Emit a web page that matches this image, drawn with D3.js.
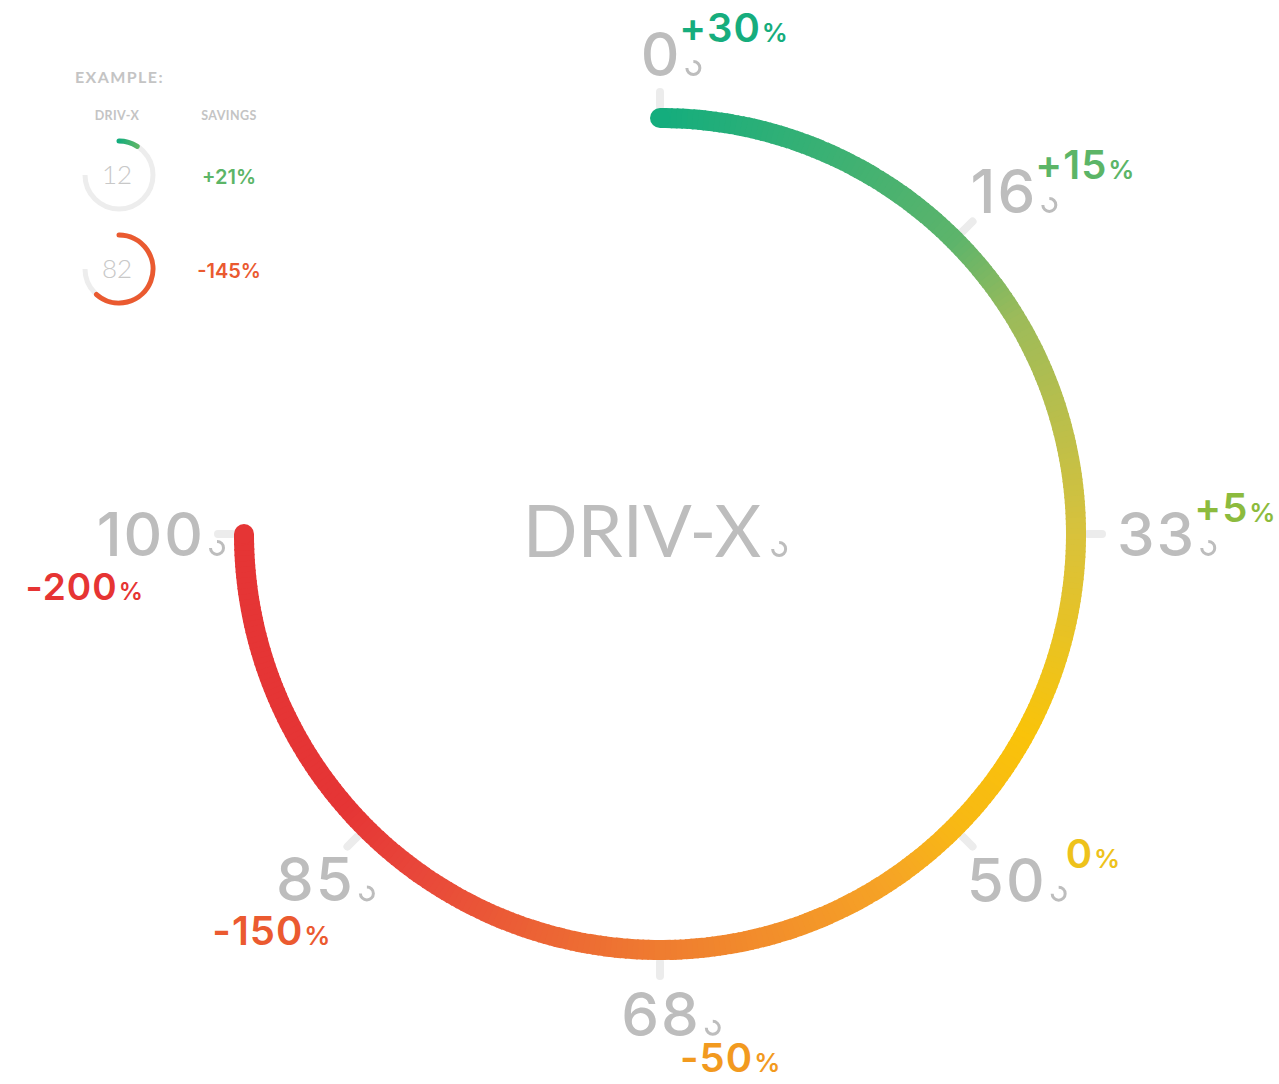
<!DOCTYPE html>
<html><head><meta charset="utf-8">
<script src="https://cdn.jsdelivr.net/npm/d3@7"></script>
<style>html,body{margin:0;padding:0;background:#fff;}svg{display:block;}</style>
</head><body>
<svg id="chart" width="1279" height="1084"></svg>
<script>
// ---- data ----
const tickLabels = ["0", "16", "33", "50", "68", "85", "100"];
const savingsLabels = ["+30", "+15", "+5", "0", "-50", "-150", "-200"];
const savingsColors = ["#16ad7d", "#5cb567", "#8cbb3e", "#eec21b", "#f29a1f", "#eb5a30", "#e63433"];
const gradientStops = [0, 0.167, 0.217, 0.333, 0.44, 0.5, 0.54, 0.667, 0.8, 0.85, 1];
const gradientColors = ["#14ad7d", "#5db46b", "#9cbb5a", "#d8c23c", "#f9c30a", "#f8b815", "#f6a525", "#ef7c30", "#e8463a", "#e53535", "#e53535"];
const mainValue = 100;
const exampleValues = [12, 82];
const exampleSavings = ["+21", "-145"];
const exampleColors = ["#5cb567", "#ea5a30"];
const centerTitle = "DRIV-X";

// ---- setup ----
const svg = d3.select("#chart");
const cx = 660, cy = 534, R = 416, W = 20;
const FONT = "Lato, 'Open Sans', sans-serif";
const NFONT = "Inter, Lato, sans-serif";
const grey = "#bdbdbd";
const valueAngle = d3.scaleLinear().domain([0, 100]).range([0, 1.5 * Math.PI]);
const idxAngle = d3.scaleLinear().domain([0, tickLabels.length - 1]).range([0, 1.5 * Math.PI]);
const arcColor = d3.scaleLinear().domain(gradientStops).range(gradientColors).interpolate(d3.interpolateRgb);

const g = svg.append("g").attr("transform", `translate(${cx},${cy})`);

// small logo icon
function icon(sel, x, y, r, sw) {
  const p = d3.path();
  p.arc(x, y, r, -Math.PI / 2, Math.PI, false);
  sel.append("path").attr("d", p.toString()).attr("fill", "none")
    .attr("stroke", grey).attr("stroke-width", sw);
}

// ticks
g.selectAll("line.tick").data(tickLabels).join("line").attr("class", "tick")
  .each(function (d, i) {
    const a = idxAngle(i), ux = Math.sin(a), uy = -Math.cos(a);
    d3.select(this).attr("x1", ux * 428).attr("y1", uy * 428).attr("x2", ux * 442).attr("y2", uy * 442);
  })
  .attr("stroke", "#ececec").attr("stroke-width", 8).attr("stroke-linecap", "round");

// gradient main arc
const N = 360;
const endA = valueAngle(mainValue);
const segs = d3.range(N).map(k => ({ a0: endA * k / N, a1: endA * (k + 1) / N, t: mainValue / 100 * (k + 0.5) / N }));
const segArc = d3.arc().innerRadius(R - W / 2).outerRadius(R + W / 2);
g.selectAll("path.seg").data(segs).join("path").attr("class", "seg")
  .attr("d", d => segArc({ startAngle: d.a0, endAngle: Math.min(d.a1 + 0.004, endA) }))
  .attr("fill", d => arcColor(d.t));
// round caps
[[0, 0], [endA, mainValue / 100]].forEach(([a, t]) => {
  g.append("circle").attr("cx", Math.sin(a) * R).attr("cy", -Math.cos(a) * R).attr("r", W / 2).attr("fill", arcColor(t));
});

// tick labels + savings
const numSize = 60, pctSize = 40;
tickLabels.forEach((lab, i) => {
  const a = idxAngle(i), ux = Math.sin(a), uy = -Math.cos(a);
  const t = g.append("text").text(lab).attr("font-family", NFONT).attr("font-size", numSize)
    .attr("font-weight", 500).attr("letter-spacing", 2).attr("fill", grey).attr("text-anchor", "middle");
  const bb = t.node().getBBox();
  const w = bb.width - 4, h = numSize * 0.73;
  const ext = Math.sqrt((ux * w / 2) ** 2 + (uy * h / 2) ** 2);
  const r0 = 458 + ext;
  const lx = ux * r0, ly = uy * r0;
  const base = ly + h / 2;
  t.attr("x", lx + 1).attr("y", base);
  const right = lx + w / 2;
  icon(g, right + 15, base - 8, 6.5, 3);
  // savings
  const size = i === tickLabels.length - 1 ? 37 : pctSize;
  const s = g.append("text").attr("font-family", NFONT).attr("font-size", size).attr("font-weight", 600)
    .attr("letter-spacing", 1).attr("fill", savingsColors[i]);
  s.append("tspan").text(savingsLabels[i]);
  s.append("tspan").text("%").attr("font-size", size * 0.65).attr("dx", 1);
  if (i <= 3) {
    s.attr("x", right + (i === 3 ? 22 : 1)).attr("y", base - 34).attr("text-anchor", "start");
  } else if (i === 4) {
    s.attr("x", lx + 20).attr("y", base + 36).attr("text-anchor", "start");
  } else {
    s.attr("x", lx + (i === 5 ? 17 : -6)).attr("y", base + 44).attr("text-anchor", "end");
  }
});

// center title
const ct = g.append("text").text(centerTitle).attr("font-family", FONT).attr("font-size", 72)
  .attr("font-weight", 400).attr("fill", grey).attr("text-anchor", "middle")
  .attr("x", -18).attr("y", 23);
const cbb = ct.node().getBBox();
icon(g, cbb.x + cbb.width + 18, 15, 6.5, 3);

// ---- legend ----
const lg = svg.append("g");
lg.append("text").text("EXAMPLE:").attr("x", 75).attr("y", 83).attr("font-family", FONT)
  .attr("font-size", 16).attr("font-weight", 700).attr("letter-spacing", 1.4).attr("fill", "#c4c4c4");
lg.append("text").text("DRIV-X").attr("x", 117).attr("y", 120).attr("text-anchor", "middle").attr("font-family", FONT)
  .attr("font-size", 12.5).attr("font-weight", 700).attr("letter-spacing", 0.4).attr("fill", "#c4c4c4");
lg.append("text").text("SAVINGS").attr("x", 229).attr("y", 120).attr("text-anchor", "middle").attr("font-family", FONT)
  .attr("font-size", 12.5).attr("font-weight", 700).attr("letter-spacing", 0.4).attr("fill", "#c4c4c4");

const gy = d3.scaleBand().domain(exampleValues.map((d, i) => i)).range([128, 316]);
exampleValues.forEach((v, i) => {
  const ey = gy(i) + gy.bandwidth() / 2, ex = 119, er = 34;
  const bg = d3.path(); bg.arc(ex, ey, er, -Math.PI / 2, Math.PI, false);
  lg.append("path").attr("d", bg.toString()).attr("fill", "none").attr("stroke", "#ededed").attr("stroke-width", 5);
  const fg = d3.path(); fg.arc(ex, ey, er, -Math.PI / 2, -Math.PI / 2 + valueAngle(v), false);
  const fgp = lg.append("path").attr("d", fg.toString()).attr("fill", "none").attr("stroke-width", 5).attr("stroke-linecap", "round");
  if (i === 0) {
    const gid = "lg0";
    const lgd = svg.append("defs").append("linearGradient").attr("id", gid).attr("x1", "0").attr("x2", "1").attr("y1", "0").attr("y2", "0");
    lgd.append("stop").attr("offset", "0").attr("stop-color", "#14ad7d");
    lgd.append("stop").attr("offset", "1").attr("stop-color", exampleColors[0]);
    fgp.attr("stroke", `url(#${gid})`);
  } else {
    fgp.attr("stroke", exampleColors[i]);
  }
  lg.append("text").text(String(v)).attr("x", ex - 2).attr("y", ey + 9).attr("text-anchor", "middle")
    .attr("font-family", FONT).attr("font-size", 26).attr("font-weight", 300).attr("fill", "#c8c8c8");
  lg.append("text").text(exampleSavings[i] + "%").attr("x", 229).attr("y", ey + 9).attr("text-anchor", "middle")
    .attr("font-family", NFONT).attr("font-size", 20).attr("font-weight", 600).attr("fill", exampleColors[i]);
});
</script>
</body></html>
